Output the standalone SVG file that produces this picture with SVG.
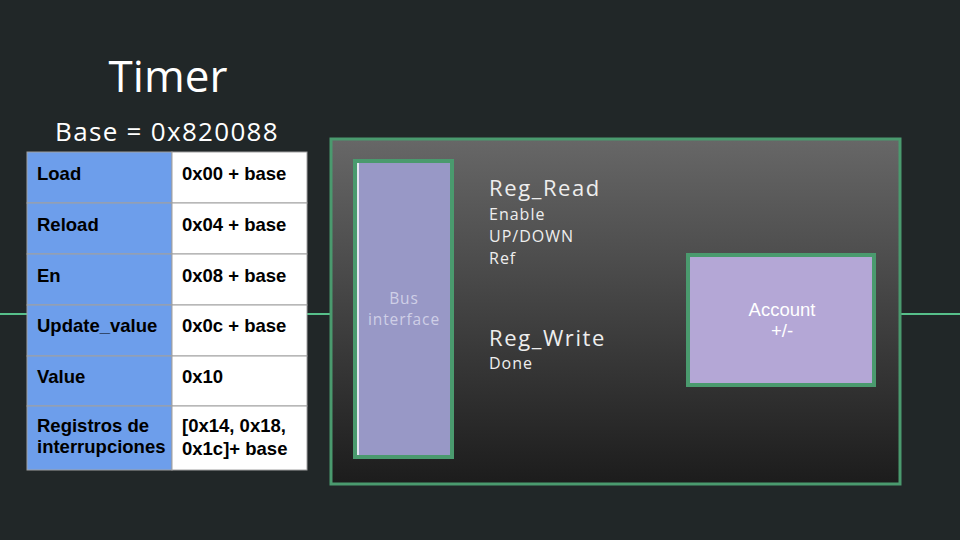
<svg xmlns="http://www.w3.org/2000/svg" width="960" height="540" viewBox="0 0 960 540">
<defs>
<linearGradient id="bg" x1="0" y1="0" x2="0" y2="1">
<stop offset="0" stop-color="#676767"/>
<stop offset="1" stop-color="#1c1c1c"/>
</linearGradient>
<style>
.cellL{fill:#6d9eeb;stroke:#a0a0a0;stroke-width:1}
.cellR{fill:#ffffff;stroke:#a0a0a0;stroke-width:1}
.tt{font-family:"Liberation Sans",Arial,sans-serif;font-weight:bold;font-size:18.5px;fill:#000}
.wire{stroke:#57c08a;stroke-width:2;fill:none}
.blk{stroke:#4a9a6e;stroke-width:4}
.lbl{font-family:"Open Sans",Lato,sans-serif;fill:#eeeeee}
.big{font-size:22px;letter-spacing:1.6px}
.sml{font-size:16px;letter-spacing:1px}
</style>
</defs>
<rect width="960" height="540" fill="#212728"/>
<text x="168" y="92" text-anchor="middle" font-family="'Open Sans',Lato,sans-serif" font-size="44" fill="#ffffff">Timer</text>
<text x="167" y="141" text-anchor="middle" font-family="'Open Sans',Lato,sans-serif" font-size="26" letter-spacing="1.3" fill="#ffffff">Base = 0x820088</text>
<g id="connectors">
<line class="wire" x1="0" y1="314" x2="27" y2="314"/>
<line class="wire" x1="307" y1="314" x2="331" y2="314"/>
<line class="wire" x1="900" y1="314" x2="960" y2="314"/>
</g>
<g id="table">
<rect class="cellL" x="27" y="152" width="145" height="51"/>
<rect class="cellR" x="172" y="152" width="135" height="51"/>
<rect class="cellL" x="27" y="203" width="145" height="51"/>
<rect class="cellR" x="172" y="203" width="135" height="51"/>
<rect class="cellL" x="27" y="254" width="145" height="51"/>
<rect class="cellR" x="172" y="254" width="135" height="51"/>
<rect class="cellL" x="27" y="305" width="145" height="51"/>
<rect class="cellR" x="172" y="305" width="135" height="51"/>
<rect class="cellL" x="27" y="356" width="145" height="50"/>
<rect class="cellR" x="172" y="356" width="135" height="50"/>
<rect class="cellL" x="27" y="406" width="145" height="64"/>
<rect class="cellR" x="172" y="406" width="135" height="64"/>
<text class="tt" x="37" y="180">Load</text>
<text class="tt" x="182" y="180">0x00 + base</text>
<text class="tt" x="37" y="231">Reload</text>
<text class="tt" x="182" y="231">0x04 + base</text>
<text class="tt" x="37" y="282">En</text>
<text class="tt" x="182" y="282">0x08 + base</text>
<text class="tt" x="37" y="332">Update_value</text>
<text class="tt" x="182" y="332">0x0c + base</text>
<text class="tt" x="37" y="383">Value</text>
<text class="tt" x="182" y="383">0x10</text>
<text class="tt" x="37" y="432">Registros de</text>
<text class="tt" x="37" y="453">interrupciones</text>
<text class="tt" x="182" y="432">[0x14, 0x18,</text>
<text class="tt" x="182" y="455">0x1c]+ base</text>
</g>
<g id="timer-block">
<rect x="331" y="139" width="569" height="345" fill="url(#bg)" stroke="#4a9a6e" stroke-width="3"/>
<text class="lbl big" x="489" y="196">Reg_Read</text>
<text class="lbl sml" x="489" y="220">Enable</text>
<text class="lbl sml" x="489" y="242">UP/DOWN</text>
<text class="lbl sml" x="489" y="264">Ref</text>
<text class="lbl big" x="489" y="346">Reg_Write</text>
<text class="lbl sml" x="489" y="369">Done</text>
</g>
<g id="bus-interface">
<rect class="blk" x="355" y="161" width="97" height="296" fill="#9898c6"/>
<line x1="358" y1="163" x2="358" y2="455" stroke="#ffffff" stroke-width="1.5"/>
<text x="404" y="304" text-anchor="middle" font-family="'Open Sans',Lato,sans-serif" font-size="15.5" letter-spacing="0.9" fill="#cfcfe6">Bus</text>
<text x="404" y="325" text-anchor="middle" font-family="'Open Sans',Lato,sans-serif" font-size="15.5" letter-spacing="0.9" fill="#cfcfe6">interface</text>
</g>
<g id="account">
<rect class="blk" x="688" y="255" width="186" height="130" fill="#b4a7d6"/>
<text x="782" y="316" text-anchor="middle" font-family="'Liberation Sans',Arial,sans-serif" font-size="18.5" fill="#ffffff">Account</text>
<text x="782" y="337" text-anchor="middle" font-family="'Liberation Sans',Arial,sans-serif" font-size="18.5" fill="#ffffff">+/-</text>
</g>
</svg>
